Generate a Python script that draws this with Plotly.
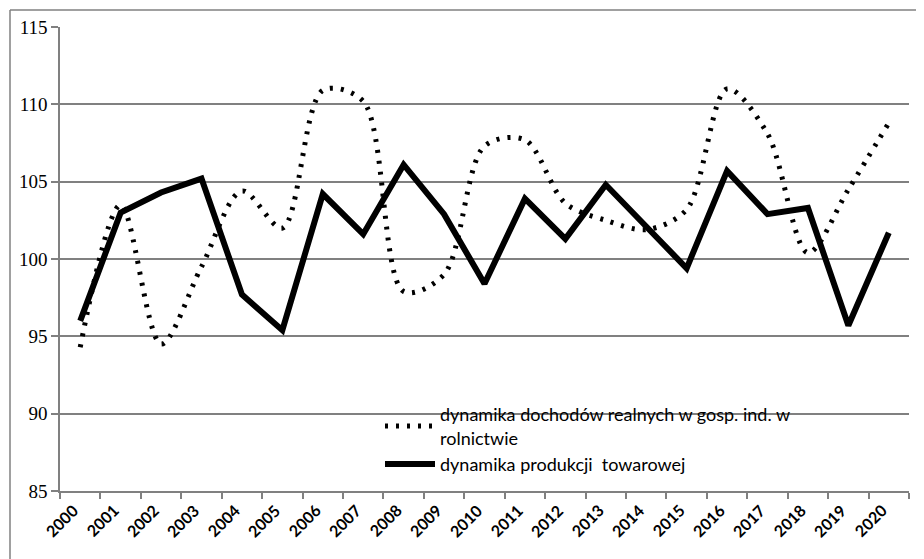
import plotly.graph_objects as go

years = [str(y) for y in range(2000, 2021)]
dochody = [94.3, 103.5, 94.5, 99.5, 104.4, 102.0, 110.9, 110.2, 97.9, 99.0, 107.3,
           107.7, 103.6, 102.5, 101.9, 103.2, 111.0, 108.1, 100.4, 104.5, 108.8]
produkcja = [96.0, 103.0, 104.3, 105.2, 97.7, 95.4, 104.2, 101.6, 106.1, 102.9, 98.4,
             103.9, 101.3, 104.8, 102.1, 99.4, 105.7, 102.9, 103.3, 95.7, 101.7]
name_doch = "dynamika dochodów realnych w gosp. ind. w<br>rolnictwie"
name_prod = "dynamika produkcji\u00a0 towarowej"
y_ticks = [85, 90, 95, 100, 105, 110, 115]

xpos = list(range(len(years)))
boundaries = [i - 0.5 for i in range(len(years) + 1)]

fig = go.Figure()
fig.add_trace(go.Scatter(
    x=xpos, y=dochody, name=name_doch, mode="lines",
    line=dict(color="black", width=5, dash="3px,8px", shape="spline", smoothing=0.9),
))
fig.add_trace(go.Scatter(
    x=xpos, y=produkcja, name=name_prod, mode="lines",
    line=dict(color="black", width=6),
))

# page has an 8px body margin; compensate so the plot lands where the reference has it
OFF = 8
W, H = 924 - OFF, 559 - OFF
ml, mt = 60 - OFF, 27 - OFF
pw, ph = 849, 464
mr, mb = W - ml - pw, H - mt - ph

# rotated category labels as annotations anchored at each category centre
year_annotations = [
    dict(x=xv, y=0, xref="x", yref="paper", text="<b>%s</b>" % lab, showarrow=False,
         textangle=-45, xanchor="right", yanchor="top", xshift=4, yshift=-7,
         font=dict(family="Lato", size=16, color="black"))
    for xv, lab in zip(xpos, years)
]

fig.update_layout(
    template="none",
    width=W, height=H,
    margin=dict(l=ml, r=mr, t=mt, b=mb, autoexpand=False),
    paper_bgcolor="white", plot_bgcolor="white",
    showlegend=True,
    legend=dict(
        x=(372 - ml) / pw, y=(mt + ph - 388) / ph, xanchor="left", yanchor="top",
        bgcolor="rgba(0,0,0,0)", font=dict(family="Lato", size=18, color="black"),
        itemwidth=50, tracegroupgap=2,
    ),
    xaxis=dict(
        type="linear", range=[-0.5, len(years) - 0.5],
        tickmode="array", tickvals=xpos, showticklabels=False,
        ticks="", automargin=False,
        minor=dict(tickmode="array", tickvals=boundaries, ticks="outside", ticklen=6,
                   tickcolor="#808080", tickwidth=1.5, showgrid=False),
        showline=True, linecolor="#808080", linewidth=1.5,
        showgrid=False, zeroline=False,
    ),
    yaxis=dict(
        range=[85, 115], tickmode="array", tickvals=y_ticks, automargin=False,
        ticks="outside", ticklen=7, tickcolor="#808080", tickwidth=1.5,
        showline=True, linecolor="#808080", linewidth=1.5,
        showgrid=True, gridcolor="#808080", gridwidth=1.5, zeroline=False,
        tickfont=dict(family="Liberation Serif", size=19, color="black"),
    ),
    annotations=year_annotations,
    shapes=[
        dict(type="line", xref="paper", yref="paper",
             x0=(2 - ml) / pw, x1=1.2, y0=1 + (mt - 2) / ph, y1=1 + (mt - 2) / ph,
             line=dict(color="#808080", width=1.5)),
        dict(type="line", xref="paper", yref="paper",
             x0=(2 - ml) / pw, x1=(2 - ml) / pw, y0=-0.2, y1=1 + (mt - 2) / ph,
             line=dict(color="#808080", width=1.5)),
    ],
)

fig.write_html("out.html")
